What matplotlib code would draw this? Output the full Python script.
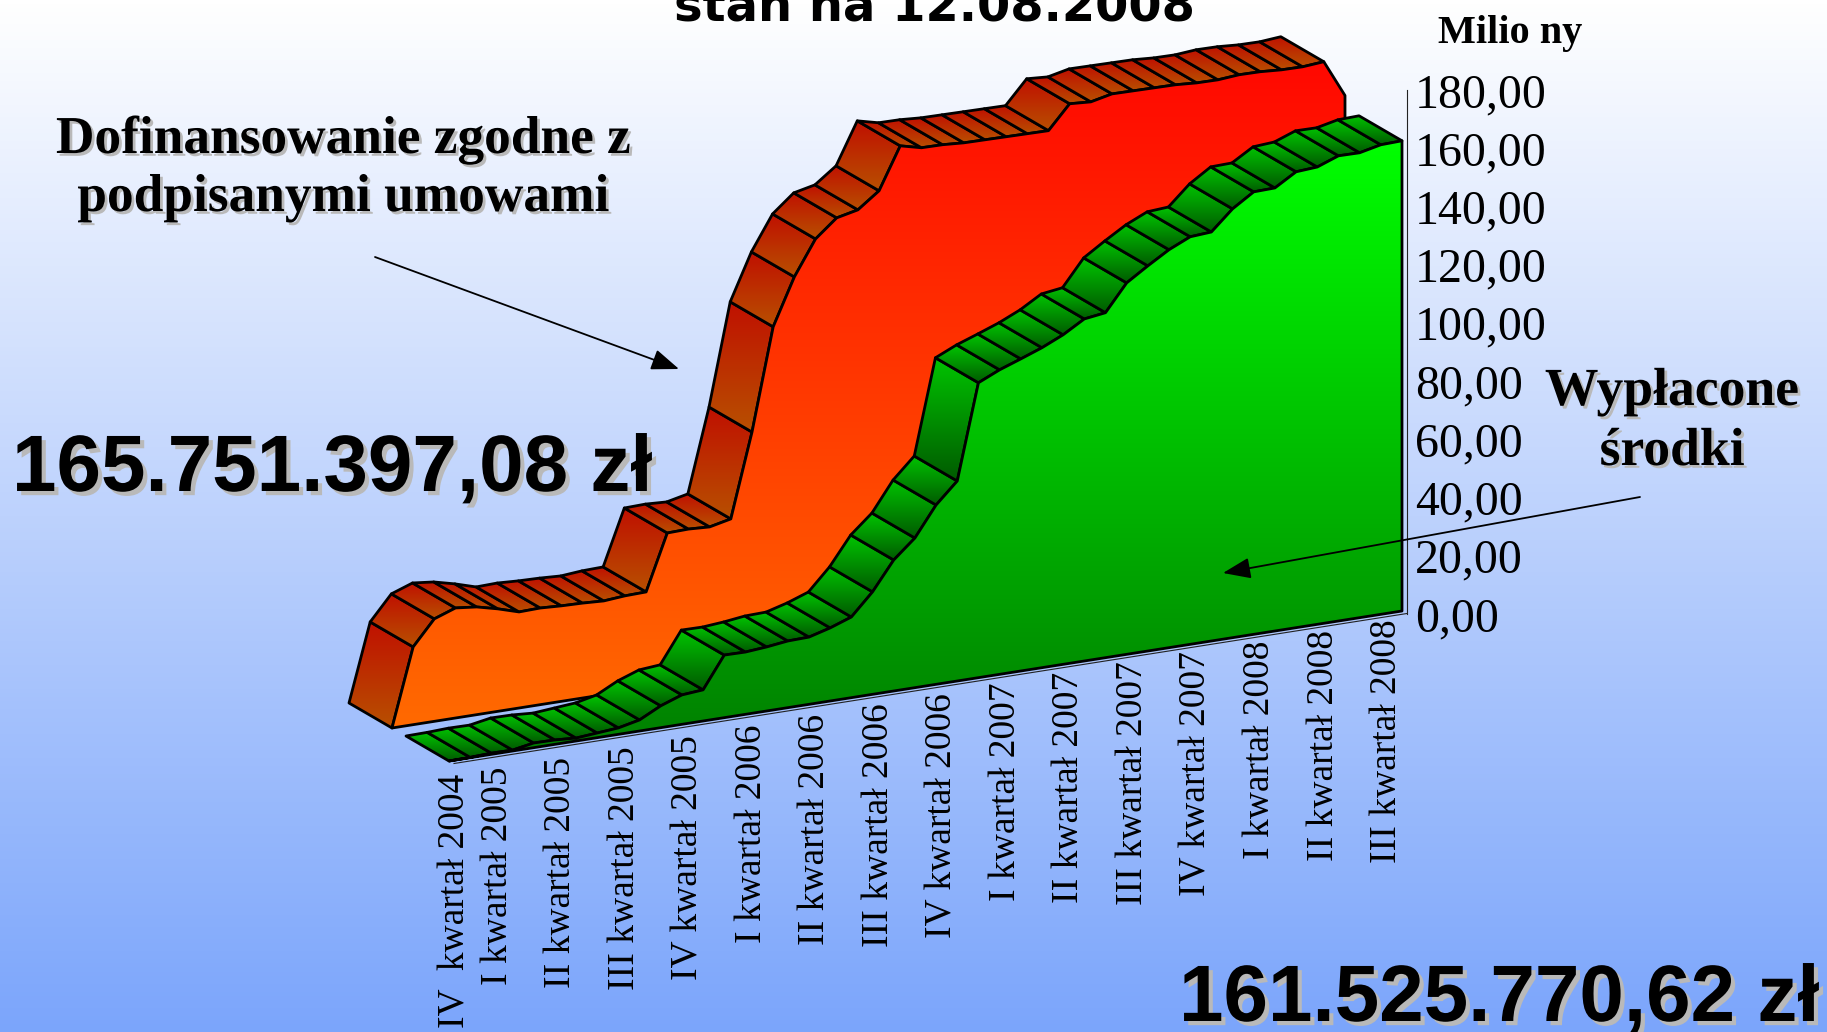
import numpy as np
import matplotlib
matplotlib.use('Agg')
import matplotlib.pyplot as plt
import matplotlib.patheffects as pe
from matplotlib.colors import LinearSegmentedColormap
from matplotlib.patches import Polygon
from matplotlib.transforms import Affine2D

# values in millions, one point per month
umowy = [0, 26.7, 35.2, 37.8, 37.0, 35.2, 33.0, 33.2, 32.8, 32.6, 32.2, 32.8, 33.0, 52.1, 52.3, 51.9,
         53.5, 82.2, 117.2, 133.2, 145.1, 151.2, 152.8, 158.2, 172.5, 170.7, 170.6, 170.1, 170.0, 169.9, 169.8,
         169.7, 177.8, 177.3, 178.9, 178.8, 178.7, 178.6, 178.1, 178.0, 178.6, 178.5, 178.0, 177.9, 178.5, 165.75]
wyplaty = [0, 0.1, 0.4, 0.3, 1.6, 1.5, 1.0, 1.6, 2.2, 3.8, 7.5, 10.1, 10.7, 21.5, 21.4, 22.0,
           22.9, 23.1, 25.1, 27.7, 35.2, 45.0, 51.4, 61.6, 68.7, 101.3, 104.6, 107.2, 109.9, 113.2, 117.5,
           118.5, 127.6, 132.3, 136.7, 140.0, 140.5, 147.3, 152.0, 152.2, 156.6, 157.1, 159.8, 159.7, 161.3, 161.53]

kwartaly = ['IV  kwartał 2004', 'I kwartał 2005', 'II kwartał 2005', 'III kwartał 2005', 'IV kwartał 2005',
            'I kwartał 2006', 'II kwartał 2006', 'III kwartał 2006', 'IV kwartał 2006',
            'I kwartał 2007', 'II kwartał 2007', 'III kwartał 2007', 'IV kwartał 2007',
            'I kwartał 2008', 'II kwartał 2008', 'III kwartał 2008']
kwartaly_pos = [0, 2, 5, 8, 11, 14, 17, 20, 23, 26, 29, 32, 35, 38, 41, 44]
y_ticks = [0, 20, 40, 60, 80, 100, 120, 140, 160, 180]

W, H = 1827, 1032
DX = 953 / 45       # px per month
RISE = 150 / 45     # floor slope
YSCALE = 2.911      # px per million
DEPTH = (-43, -25)  # depth of a ribbon
GREEN_X0, GREEN_Y0 = 449, 761
RED_X0, RED_Y0 = 392, 728
EDGE = 2.0


def grad_poly(ax, pts, top, bottom, z):
    pts = np.asarray(pts)
    cmap = LinearSegmentedColormap.from_list('g', [top, bottom])
    im = ax.imshow(np.linspace(0, 1, 256)[:, None], cmap=cmap, aspect='auto', interpolation='bilinear',
                   extent=(pts[:, 0].min(), pts[:, 0].max(), pts[:, 1].max(), pts[:, 1].min()), zorder=z)
    p = Polygon(pts, closed=True, fc='none', ec='black', lw=EDGE, joinstyle='round', zorder=z + 0.1)
    ax.add_patch(p)
    im.set_clip_path(p)


def draw_series(ax, values, x0, y0, face, band, z):
    tr = Affine2D.from_values(DX, -RISE, 0, -YSCALE, x0, y0)
    idx = np.arange(len(values))
    front = tr.transform(np.column_stack([idx, values]))
    back = front + DEPTH
    for i in idx[:-1]:
        ex, ey = front[i + 1] - front[i]
        # a ribbon piece that drops away faces backwards, so it can't be seen
        if ex * DEPTH[1] - ey * DEPTH[0] > 0:
            continue
        grad_poly(ax, [back[i], back[i + 1], front[i + 1], front[i]], band[0], band[1], z)
        z += 0.2
    base = tr.transform(np.column_stack([idx, np.zeros(len(idx))]))
    grad_poly(ax, np.vstack([front, base[::-1]]), face[0], face[1], z)
    return z + 0.2, tr


fig = plt.figure(figsize=(W / 100, H / 100), dpi=100)
ax = fig.add_axes([0, 0, 1, 1])
ax.axis('off')

bg = LinearSegmentedColormap.from_list('bg', ['#ffffff', '#7ba5fb'])
ax.imshow(np.linspace(0, 1, 256)[:, None], cmap=bg, aspect='auto', extent=(0, W, H, 0), zorder=0)

z, _ = draw_series(ax, umowy, RED_X0, RED_Y0, ('#ff0800', '#ff6a00'), ('#c01000', '#b85000'), 1)
z, tr_g = draw_series(ax, wyplaty, GREEN_X0, GREEN_Y0, ('#00ff00', '#007c00'), ('#00c400', '#005a00'), z)

# floor and wall lines
last = len(wyplaty) - 1
fl = tr_g.transform([(0, 0), (last, 0)]) + (5, 2.5)
ax.plot(fl[:, 0], fl[:, 1], color='#222222', lw=0.8, zorder=z)
ax.plot([fl[1, 0], fl[1, 0]], [fl[1, 1], 614 - 180 * YSCALE], color='#222222', lw=0.8, zorder=z)

# value axis
for v in y_ticks:
    ax.text(1415, 614 - v * YSCALE, f'{v},00', family='Liberation Serif', fontsize=34.5,
            ha='left', va='center_baseline', zorder=z)

# quarter labels
for lab, i in zip(kwartaly, kwartaly_pos):
    x, y = tr_g.transform((i, 0))
    ax.text(x + 6, y + 13 - 0.18 * i, lab, rotation=90, family='Liberation Serif', fontsize=27,
            ha='center', va='top', zorder=z)

shadow = [pe.withSimplePatchShadow(offset=(2, -2), shadow_rgbFace='#b9b9b9', alpha=1)]
shadow2 = [pe.withSimplePatchShadow(offset=(3, -3), shadow_rgbFace='#b9b9b9', alpha=1)]

ax.text(934, 21, 'stan na 12.08.2008', family='DejaVu Sans', weight='bold', fontsize=34.6,
        ha='center', va='baseline', zorder=z)
ax.text(1510, 34, 'Milio ny', family='Liberation Serif', weight='bold', fontsize=29,
        ha='center', va='center', zorder=z)
ax.text(343, 140, 'Dofinansowanie zgodne z', family='Liberation Serif', weight='bold', fontsize=38.4,
        ha='center', va='center', path_effects=shadow, zorder=z)
ax.text(343, 198, 'podpisanymi umowami', family='Liberation Serif', weight='bold', fontsize=38.4,
        ha='center', va='center', path_effects=shadow, zorder=z)
ax.text(1672, 392, 'Wypłacone', family='Liberation Serif', weight='bold', fontsize=38.6,
        ha='center', va='center', path_effects=shadow, zorder=z)
ax.text(1672, 452, 'środki', family='Liberation Serif', weight='bold', fontsize=38.6,
        ha='center', va='center', path_effects=shadow, zorder=z)
ax.text(12, 491, '165.751.397,08 zł', family='Liberation Sans', weight='bold', fontsize=57.6,
        ha='left', va='baseline', path_effects=shadow2, zorder=z)
ax.text(1179, 1021, '161.525.770,62 zł', family='Liberation Sans', weight='bold', fontsize=57.6,
        ha='left', va='baseline', path_effects=shadow2, zorder=z)

arrow = dict(arrowstyle='-|>,head_length=1.0,head_width=0.38', color='black', lw=1.3,
             shrinkA=0, shrinkB=0, mutation_scale=17)
ax.annotate('', xy=(679, 369), xytext=(375, 257), arrowprops=arrow, zorder=z)
ax.annotate('', xy=(1223, 573), xytext=(1640, 497), arrowprops=arrow, zorder=z)

ax.set_xlim(0, W)
ax.set_ylim(H, 0)
fig.savefig('out.png', dpi=100)
